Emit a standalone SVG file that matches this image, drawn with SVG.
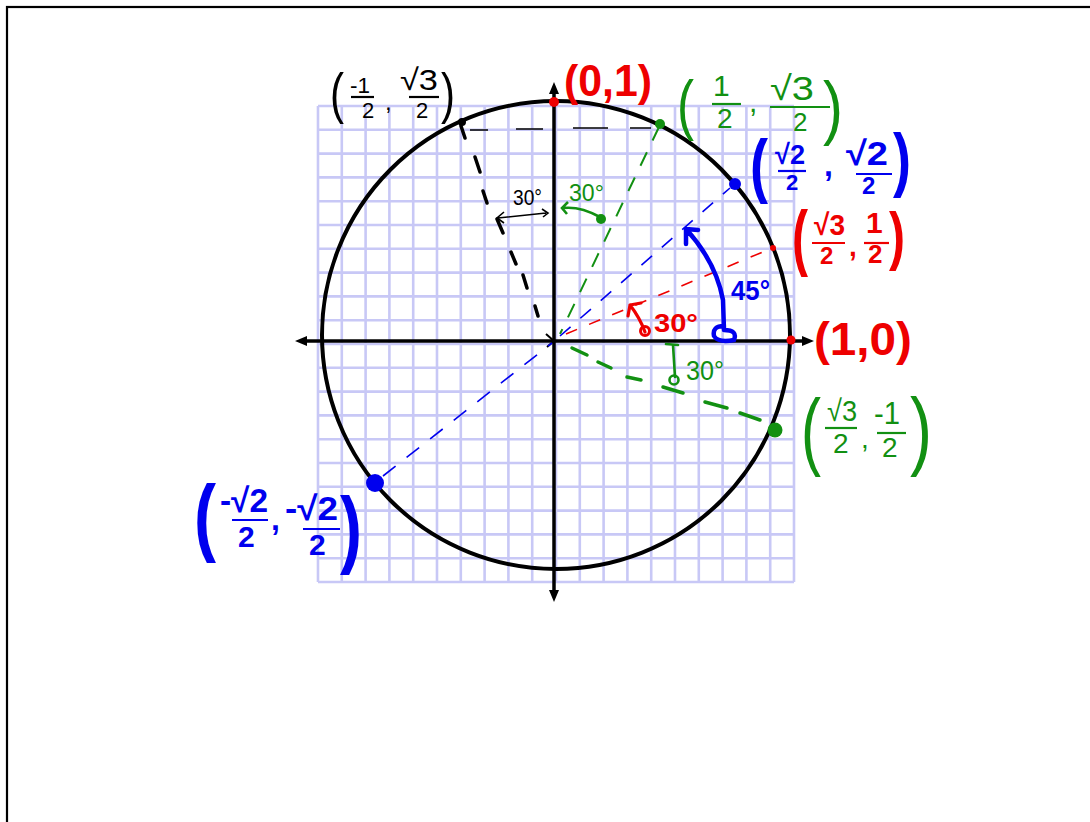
<svg xmlns="http://www.w3.org/2000/svg" width="1090" height="822" viewBox="0 0 1090 822">
<defs>
<style>
.grid{stroke:#c8c8f6;stroke-width:2.6;fill:none}
.ax{stroke:#000;stroke-width:3.5;fill:none}
.t{font-family:"Liberation Sans","DejaVu Sans",sans-serif}
.k{fill:#000}.r{fill:#ee0000;font-weight:bold}.g{fill:#129012}.b{fill:#0000ee;font-weight:bold}
.bar{stroke-width:2.2;fill:none}
.kb{stroke:#000}.rb{stroke:#ee0000}.gb{stroke:#129012}.bb{stroke:#0000ee}
.e{text-anchor:end}
</style>
</defs>
<rect x="0" y="0" width="1090" height="822" fill="#fff"/>
<rect x="7" y="7" width="1110" height="900" fill="none" stroke="#000" stroke-width="2.2"/>

<g id="grid">
<path class="grid" d="M318 106V582M341.8 106V582M365.6 106V582M389.4 106V582M413.2 106V582M437 106V582M460.8 106V582M484.6 106V582M508.4 106V582M532.2 106V582M556 106V582M579.8 106V582M603.6 106V582M627.4 106V582M651.2 106V582M675 106V582M698.8 106V582M722.6 106V582M746.4 106V582M770.2 106V582M794 106V582"/>
<path class="grid" d="M318 106H794M318 129.8H794M318 153.6H794M318 177.4H794M318 201.2H794M318 225H794M318 248.8H794M318 272.6H794M318 296.4H794M318 320.2H794M318 344H794M318 367.8H794M318 391.6H794M318 415.4H794M318 439.2H794M318 463H794M318 486.8H794M318 510.6H794M318 534.4H794M318 558.2H794M318 582H794"/>
</g>

<g id="circle">
<circle cx="556" cy="335" r="234" fill="none" stroke="#000" stroke-width="4"/>
</g>

<g id="axes">
<path class="ax" d="M304 341H806"/>
<path class="ax" d="M554 92V594"/>
<path d="M295 341L307 336V346Z M814 341L802 336V346Z M554 82L549 94H559Z M554 602L549 590H559Z" fill="#000"/>
<path d="M546 334L554 341L547 347" stroke="#000" stroke-width="2" fill="none"/>
</g>

<g id="connectors">
<path d="M470 130H488M516 129H543M573 128H608M630 128H651" stroke="#000" stroke-width="1.5" fill="none"/>
<path d="M461 126L465 138M475 157L480 172M483 191L487 203M497 219L503 233M511 252L516 264M523 275L527 288M535 306L538 316" stroke="#000" stroke-width="3.5" stroke-linecap="round" fill="none"/>
<line x1="659" y1="127" x2="560" y2="334" stroke="#129012" stroke-width="2" stroke-dasharray="15 13"/>
<line x1="383" y1="476" x2="552" y2="343" stroke="#0000ee" stroke-width="1.6" stroke-dasharray="16 14"/>
<line x1="560" y1="336" x2="730" y2="188" stroke="#0000ee" stroke-width="1.6" stroke-dasharray="14 13"/>
<line x1="566" y1="334" x2="770" y2="249" stroke="#ee0000" stroke-width="1.6" stroke-dasharray="12 13"/>
<path d="M572 348L587 355M598 362L611 368M627 377L641 380M663 387L683 393M705 402L727 408M740 413L760 420" stroke="#129012" stroke-width="3.5" stroke-linecap="round" fill="none"/>
</g>

<g id="points">
<circle cx="554" cy="102" r="5" fill="#ee0000"/>
<circle cx="791" cy="340" r="4.5" fill="#ee0000"/>
<circle cx="660" cy="124" r="5" fill="#129012"/>
<circle cx="462" cy="122" r="4" fill="#000"/>
<circle cx="735" cy="184" r="6" fill="#0000ee"/>
<circle cx="773" cy="248" r="3" fill="#ee0000"/>
<circle cx="775" cy="430" r="7.5" fill="#129012"/>
<circle cx="375" cy="483" r="9" fill="#0000ee"/>
</g>

<g id="angle-black">
<text class="t k" x="513" y="205" font-size="22" textLength="29" lengthAdjust="spacingAndGlyphs">30°</text>
<path d="M498 218L546 213M504 212L497 218L504 223M542 209L548 213L543 217" stroke="#000" stroke-width="1.6" fill="none"/>
</g>

<g id="angle-green-top">
<text class="t g" x="569" y="201" font-size="24" textLength="35" lengthAdjust="spacingAndGlyphs">30°</text>
<path d="M563 208Q580 206 600 217M568 202L562 208L567 214" stroke="#129012" stroke-width="2.6" fill="none"/>
<circle cx="601" cy="219" r="5" fill="#129012"/>
</g>

<g id="angle-blue">
<path d="M686 229Q716 262 723 300L724 330M686 229V244M686 229L698 230M724 326Q712 326 714 336Q718 343 734 340Q738 330 724 330" stroke="#0000ee" stroke-width="4.5" stroke-linecap="round" fill="none"/>
<text class="t b" x="731" y="300" font-size="27" textLength="39" lengthAdjust="spacingAndGlyphs">45°</text>
</g>

<g id="angle-red">
<path d="M630 305Q640 318 645 332M630 305L628 316M630 305L641 303" stroke="#ee0000" stroke-width="3.2" stroke-linecap="round" fill="none"/>
<circle cx="645" cy="331" r="4.5" fill="none" stroke="#ee0000" stroke-width="3"/>
<text class="t r" x="654" y="332" font-size="25" font-weight="normal" textLength="44" lengthAdjust="spacingAndGlyphs">30°</text>
</g>

<g id="angle-green-bottom">
<path d="M666 344L678 345M673 345L675 377" stroke="#129012" stroke-width="2.6" stroke-linecap="round" fill="none"/>
<circle cx="674" cy="380" r="4.5" fill="none" stroke="#129012" stroke-width="2.6"/>
<text class="t g" x="686" y="380" font-size="27" textLength="38" lengthAdjust="spacingAndGlyphs">30°</text>
</g>

<g id="label-0-1">
<text class="t r" x="564" y="96" font-size="44" textLength="88" lengthAdjust="spacingAndGlyphs">(0,1)</text>
</g>

<g id="label-1-0">
<text class="t r" x="814" y="355" font-size="46" textLength="98" lengthAdjust="spacingAndGlyphs">(1,0)</text>
</g>

<g id="label-neg-half-root3-half">
<text class="t k" x="330" y="112" font-size="56" textLength="14" lengthAdjust="spacingAndGlyphs">(</text>
<text class="t k" font-size="22"><tspan x="350" y="93" textLength="20" lengthAdjust="spacingAndGlyphs">-1</tspan><tspan x="362" y="118">2</tspan></text>
<line class="bar kb" x1="351" y1="97" x2="374" y2="97"/>
<text class="t k" x="385" y="110" font-size="24">,</text>
<text class="t k" font-size="30"><tspan x="400" y="90" textLength="38" lengthAdjust="spacingAndGlyphs">√3</tspan><tspan x="416" y="118" font-size="22">2</tspan></text>
<line class="bar kb" x1="409" y1="97" x2="439" y2="97"/>
<text class="t k" x="441" y="112" font-size="56" textLength="14" lengthAdjust="spacingAndGlyphs">)</text>
</g>

<g id="label-half-root3-half">
<text class="t g" x="677" y="127" font-size="66" textLength="17" lengthAdjust="spacingAndGlyphs">(</text>
<text class="t g" font-size="30"><tspan x="713" y="96">1</tspan><tspan x="717" y="128" font-size="28">2</tspan></text>
<line class="bar gb" x1="712" y1="104" x2="741" y2="104"/>
<text class="t g" x="749" y="112" font-size="30">,</text>
<text class="t g" font-size="34"><tspan x="770" y="100" textLength="44" lengthAdjust="spacingAndGlyphs">√3</tspan><tspan x="793" y="131" font-size="26">2</tspan></text>
<line class="bar gb" x1="770" y1="107" x2="830" y2="107"/>
<text class="t g" x="823" y="131" font-size="70" textLength="20" lengthAdjust="spacingAndGlyphs">)</text>
</g>

<g id="label-root2-half-root2-half">
<text class="t b" x="750" y="189" font-size="70" textLength="18" lengthAdjust="spacingAndGlyphs">(</text>
<text class="t b" font-size="28"><tspan x="775" y="164" textLength="30" lengthAdjust="spacingAndGlyphs">√2</tspan><tspan x="786" y="190" font-size="22">2</tspan></text>
<line class="bar bb" x1="778" y1="171" x2="806" y2="171" stroke-width="2.8"/>
<text class="t b" x="824" y="176" font-size="32">,</text>
<text class="t b" font-size="34"><tspan x="846" y="165" textLength="42" lengthAdjust="spacingAndGlyphs">√2</tspan><tspan x="862" y="194" font-size="24">2</tspan></text>
<line class="bar bb" x1="856" y1="174" x2="892" y2="174" stroke-width="2.8"/>
<text class="t b" x="893" y="183" font-size="70" textLength="18" lengthAdjust="spacingAndGlyphs">)</text>
</g>

<g id="label-root3-half-half">
<text class="t r e" x="808" y="262" font-size="72" textLength="16" lengthAdjust="spacingAndGlyphs">(</text>
<text class="t r" font-size="30"><tspan x="814" y="235" textLength="31" lengthAdjust="spacingAndGlyphs">√3</tspan><tspan x="820" y="264" font-size="24">2</tspan></text>
<line class="bar rb" x1="812" y1="243" x2="845" y2="243" stroke-width="2.6"/>
<text class="t r" x="849" y="256" font-size="28">,</text>
<text class="t r" font-size="30"><tspan x="866" y="233">1</tspan><tspan x="868" y="263" font-size="26">2</tspan></text>
<line class="bar rb" x1="864" y1="243" x2="889" y2="243" stroke-width="2.6"/>
<text class="t r" x="889" y="258" font-size="64" textLength="16" lengthAdjust="spacingAndGlyphs">)</text>
</g>

<g id="label-root3-half-neg-half">
<text class="t g e" x="821" y="459" font-size="86" textLength="20" lengthAdjust="spacingAndGlyphs">(</text>
<text class="t g" font-size="30"><tspan x="827" y="421" textLength="30" lengthAdjust="spacingAndGlyphs">√3</tspan><tspan x="833" y="453" font-size="28">2</tspan></text>
<line class="bar gb" x1="825" y1="428" x2="857" y2="428" stroke-width="2.4"/>
<text class="t g" x="861" y="448" font-size="28">,</text>
<text class="t g" font-size="32"><tspan x="874" y="424" textLength="26" lengthAdjust="spacingAndGlyphs">-1</tspan><tspan x="882" y="457" font-size="28">2</tspan></text>
<line class="bar gb" x1="877" y1="433" x2="906" y2="433" stroke-width="2.4"/>
<text class="t g" x="910" y="459" font-size="88" textLength="22" lengthAdjust="spacingAndGlyphs">)</text>
</g>

<g id="label-neg-root2-half-neg-root2-half">
<text class="t b e" x="216" y="545" font-size="86" textLength="22" lengthAdjust="spacingAndGlyphs">(</text>
<text class="t b" font-size="34"><tspan x="220" y="512" textLength="48" lengthAdjust="spacingAndGlyphs">-√2</tspan><tspan x="238" y="547" font-size="30">2</tspan></text>
<line class="bar bb" x1="232" y1="520" x2="268" y2="520" stroke-width="2.8"/>
<text class="t b" x="271" y="530" font-size="32">,</text>
<text class="t b" font-size="34"><tspan x="285" y="520" textLength="53" lengthAdjust="spacingAndGlyphs">-√2</tspan><tspan x="309" y="555" font-size="30">2</tspan></text>
<line class="bar bb" x1="303" y1="529" x2="340" y2="529" stroke-width="2.8"/>
<text class="t b" x="340" y="557" font-size="86" textLength="22" lengthAdjust="spacingAndGlyphs">)</text>
</g>
</svg>
